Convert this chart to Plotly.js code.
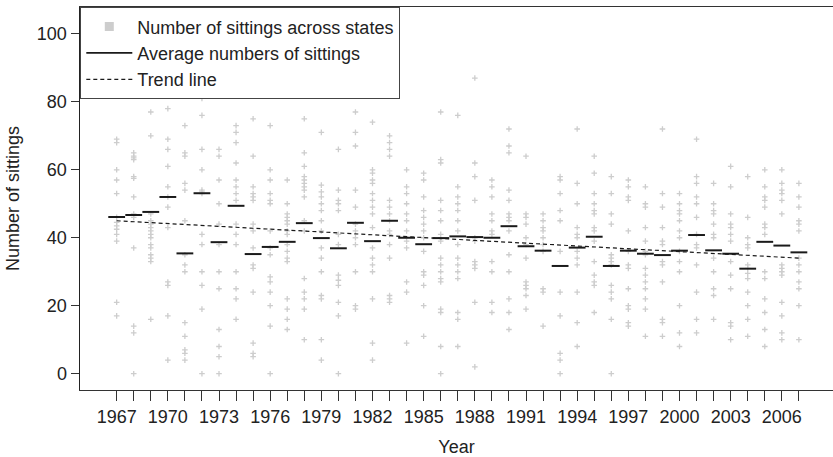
<!DOCTYPE html>
<html>
<head>
<meta charset="utf-8">
<script src="https://cdn.plot.ly/plotly-3.0.1.min.js"></script>
<style>html,body{margin:0;padding:0;background:#fff;}#chart{width:833px;height:457px;}</style>
</head>
<body>
<div id="chart"></div>
<script>
const years = [1967,1968,1969,1970,1971,1972,1973,1974,1975,1976,1977,1978,1979,1980,1981,1982,1983,1984,1985,1986,1987,1988,1989,1990,1991,1992,1993,1994,1995,1996,1997,1998,1999,2000,2001,2002,2003,2004,2005,2006,2007];
const tickYears = [1967,1970,1973,1976,1979,1982,1985,1988,1991,1994,1997,2000,2003,2006];

// Number of sittings across states (one array per year)
const s1967 = [69,68,60,57,53,46,44.5,43.5,42.5,41,39,21,17];
const s1968 = [65,64,63.5,63,58,57.5,52,47,46,37,14,12,0];
const s1969 = [77,70,47,45,44,43,42,41,40,38,37,35,34,33,16];
const s1970 = [82,78,69,66,61,55,52,49,43,27,26,17,4];
const s1971 = [73,65,64,56,54,45,35,32,30,15,11,7,6,4];
const s1972 = [82,81,76,66,60,54,53.5,53,41,38,30,26,19,0];
const s1973 = [84,66,64,57,50,44,38,30,25,13,8,5,0];
const s1974 = [73,71,68,62,57,55,53,51,44,41,38,30,25,22,16];
const s1975 = [75,64,55,53,52,51,44,42,37,32,31,24,9,6,5];
const s1976 = [73,60,57,53,51,50,42,37,35,28.5,27,24,20,14,0];
const s1977 = [57,50,47,46,45,44,42,41,38,36,34,33,22,19,16,13];
const s1978 = [75,65,61,58,57,56,55,54,52,45,42,28,24,22,19,10];
const s1979 = [71,55.5,53.5,52,50,48,45,42,37,34,30,23,22,10,4];
const s1980 = [66,54,51,50,48,41,38,29,27.5,26,21,17,0];
const s1981 = [77,71,67,54,49,44,42,40,38,30,20,19];
const s1982 = [74,60,59,57,56,53,51,49,47,43,37,34,32,30,22,9,4];
const s1983 = [70,68,66,64,51,49,47,45,42,41,38,34,23,22,21];
const s1984 = [60,55,53,50,47,45,42,39,37,27,24,9];
const s1985 = [59,57,52,48,46,44,42,40,36,30,29,26,20,11];
const s1986 = [77,63,62,51,48,45,41,39,34,32,30,28,27,19,18,8,0];
const s1987 = [76,55,52,50,48,45,42,38,34,32,30,28,18,16,8];
const s1988 = [87,62,58,51,40,39,33,32,31,21,2];
const s1989 = [57,55,52,47,45,42,41,33,30,21,18];
const s1990 = [72,67,65,54,51,47,46,45,42,35,30,22,18,13];
const s1991 = [64,47,46,44,40,38,34,27,26,25,23,19];
const s1992 = [47,45,43,42,40,38,36,25,24,14];
const s1993 = [58,57,53,48,45,36,24,17,6,4,0];
const s1994 = [72,56,50,43,41,40,36,34,32,24,15,8];
const s1995 = [64,59,53,50,48,47,43,42,39,33,29,27,26,18];
const s1996 = [58,53,47,44,35,34,33,32,26,24,22,16,0];
const s1997 = [57,55,52,51,42,36,32,31,25,20,19,15,14];
const s1998 = [55,50,49,43,39,36,35,31,29,27,25,22,19,11];
const s1999 = [72,53,49,43,39,38,33,32,27,16,15,11];
const s2000 = [53,50,48,47,45,42,40,36,33,30,20,12,8];
const s2001 = [69,58,56,52,50,46,41,38,37,32,24,16,12];
const s2002 = [56,50,48,47,44,41,40,34,30,25,23,16];
const s2003 = [61,55,47,44,43,41,39,33,29,25,15,14,10];
const s2004 = [58,46,40,38,37,32,31,29.5,28,24,20,16,11];
const s2005 = [60,55,52,51,49,44,43,41,30,28,22,18,13,8];
const s2006 = [60,56,54,53,51,47,32,31,30,29,21,17,12,10];
const s2007 = [56,52,49,45,44,42,34,32,30,27,25,20,10];

// Average numbers of sittings per year
const averages = [46.1,46.7,47.6,52.0,35.4,53.1,38.7,49.4,35.2,37.3,38.8,44.3,39.9,36.9,44.4,39.0,45.0,40.0,38.1,39.9,40.4,40.2,40.0,43.4,37.5,36.2,31.7,37.1,40.3,31.7,36.2,35.3,34.9,36.2,40.8,36.3,35.3,30.9,38.8,37.7,35.7];

// Trend line end points
const trendX = [1967, 2007];
const trendY = [45.0, 34.0];

const perYear = [s1967,s1968,s1969,s1970,s1971,s1972,s1973,s1974,s1975,s1976,s1977,s1978,s1979,s1980,s1981,s1982,s1983,s1984,s1985,s1986,s1987,s1988,s1989,s1990,s1991,s1992,s1993,s1994,s1995,s1996,s1997,s1998,s1999,s2000,s2001,s2002,s2003,s2004,s2005,s2006,s2007];
const ptX = [], ptY = [];
perYear.forEach((arr, i) => arr.forEach(v => { ptX.push(years[i]); ptY.push(v); }));

const FONT = 'Liberation Sans, Arial, sans-serif';
const grey = '#cdcdcd';
const ink = '#222';

const traces = [
  {x: ptX, y: ptY, type: 'scatter', mode: 'markers', showlegend: false, hoverinfo: 'x+y',
   marker: {symbol: 'cross-thin', size: 4, color: grey, line: {color: grey, width: 1.3}}},
  {x: [null], y: [null], type: 'scatter', mode: 'markers', name: 'Number of sittings across states',
   marker: {symbol: 'square', size: 9, color: grey}},
  {x: years, y: averages, type: 'scatter', mode: 'markers', showlegend: false,
   marker: {symbol: 'line-ew', size: 12, color: '#1a1a1a', line: {color: '#1a1a1a', width: 2}}},
  {x: [null], y: [null], type: 'scatter', mode: 'lines', name: 'Average numbers of sittings',
   line: {color: '#1a1a1a', width: 1.8}},
  {x: trendX, y: trendY, type: 'scatter', mode: 'lines', name: 'Trend line',
   line: {color: '#1a1a1a', width: 1.2, dash: '4px,3px'}}
];

const layout = {
  width: 833, height: 457,
  margin: {l: 80, r: 0, t: 7, b: 67},
  paper_bgcolor: '#fff', plot_bgcolor: '#fff',
  font: {family: FONT, size: 18, color: ink},
  showlegend: true,
  legend: {x: 0, y: 1, xanchor: 'left', yanchor: 'top', bgcolor: '#fff', bordercolor: '#444', borderwidth: 1.3,
           font: {family: FONT, size: 18, color: ink}, itemwidth: 46, tracegroupgap: 0,
           traceorder: 'normal'},
  xaxis: {range: [1964.85, 2009], tickvals: tickYears, ticktext: tickYears.map(String),
          ticks: 'outside', ticklen: 10, tickwidth: 1, tickcolor: '#333',
          minor: {tickvals: years, ticks: 'outside', ticklen: 10, tickwidth: 1, tickcolor: '#333', showgrid: false},
          showgrid: false, zeroline: false, showline: true, linecolor: '#333', linewidth: 1.2, mirror: true,
          title: {text: 'Year', font: {family: FONT, size: 18, color: ink}, standoff: 14},
          tickfont: {family: FONT, size: 18, color: ink}},
  yaxis: {range: [-4.8, 107.9], tickvals: [0,20,40,60,80,100],
          ticks: 'outside', ticklen: 8, tickwidth: 1, tickcolor: '#333',
          showgrid: false, zeroline: false, showline: true, linecolor: '#222', linewidth: 1.5,
          title: {text: 'Number of sittings', font: {family: FONT, size: 18, color: ink}, standoff: 12},
          tickfont: {family: FONT, size: 18, color: ink}}
};

Plotly.newPlot('chart', traces, layout, {displayModeBar: false, staticPlot: true});
</script>
</body>
</html>
